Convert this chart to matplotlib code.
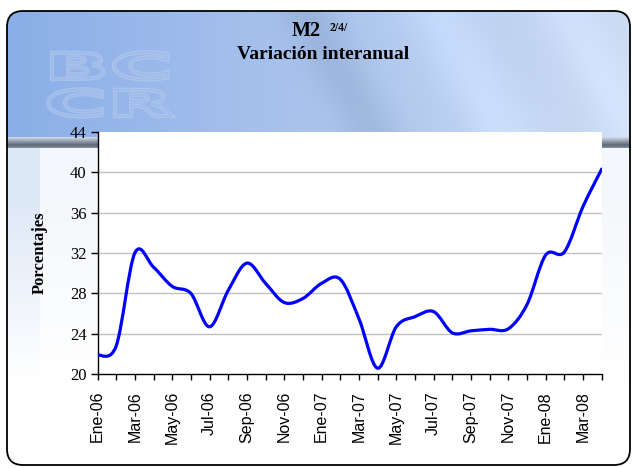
import numpy as np
import matplotlib
matplotlib.use("Agg")
import matplotlib.pyplot as plt
from matplotlib.path import Path
from matplotlib.patches import PathPatch, FancyBboxPatch
from matplotlib.textpath import TextPath
from matplotlib.font_manager import FontProperties
from matplotlib.transforms import Affine2D

# M2, variacion interanual (%), Ene-06 .. Abr-08
meses = ["Ene", "Feb", "Mar", "Abr", "May", "Jun",
         "Jul", "Ago", "Sep", "Oct", "Nov", "Dic"]
anios = ["06", "07", "08"]
etiquetas = [m + "-" + a for a in anios for m in meses][:28]
m2 = [21.9, 22.8, 32.0, 30.6, 28.7, 28.0, 24.7, 28.3, 31.0, 29.0, 27.1, 27.5,
      29.0, 29.4, 25.5, 20.6, 24.7, 25.7, 26.2, 24.1, 24.3, 24.45, 24.5, 26.9,
      31.8, 32.1, 36.6, 40.3]
yticks = [20, 24, 28, 32, 36, 40, 44]

W, H = 633, 468
fig = plt.figure(figsize=(W / 100, H / 100), dpi=100)
fig.patch.set_facecolor("white")

# ---- background (blue banner, grey bar, pale lower part) ----
yy, xx = np.mgrid[0:H, 0:W].astype(float)
t = (xx / W)[..., None]
izq = np.array([0.54, 0.68, 0.91])
der = np.array([0.80, 0.86, 0.95])
img = izq * (1 - t) + der * t
u = xx - 0.55 * yy
img += (-0.06 * np.exp(-((u - 300) / 30) ** 2))[..., None]
img += (0.05 * np.exp(-((u - 430) / 35) ** 2))[..., None]
img += (0.04 * np.exp(-((u - 560) / 30) ** 2))[..., None]
abajo = yy >= 148
f = np.clip((yy - 200) / 180, 0, 1)[..., None]
palido = np.array([0.96, 0.97, 0.985]) * (1 - f) + np.array([1.0, 1.0, 1.0]) * f
celeste = np.array([0.87, 0.91, 0.97]) * (1 - f) + np.array([1.0, 1.0, 1.0]) * f
low = np.where((xx < 40)[..., None], celeste, palido)
img[abajo] = low[abajo]
for y in range(137, 148):
    s = abs(y - 144.5) / 7.5
    img[y, :] = np.array([0.36, 0.40, 0.46]) * (1 - s) + np.array([0.80, 0.84, 0.90]) * s
img = np.clip(img, 0, 1)

bg = fig.add_axes([0, 0, 1, 1], zorder=-5)
bg.set_xlim(0, W)
bg.set_ylim(H, 0)
bg.axis("off")
im = bg.imshow(img, extent=(0, W, H, 0), aspect="auto", interpolation="bilinear")
caja = FancyBboxPatch((7, 11), 623, 454, boxstyle="round,pad=0,rounding_size=16",
                      transform=bg.transData, facecolor="none", edgecolor="black", lw=1.3)
bg.add_patch(caja)
im.set_clip_path(caja)

# BCCR watermark
fp = FontProperties(family="DejaVu Sans", weight="bold")
for txt, y0 in [("BC", 79), ("CR", 116)]:
    tp = TextPath((0, 0), txt, size=50, prop=fp)
    tr = Affine2D().scale(1.72, -0.72).translate(44, y0) + bg.transData
    bg.add_patch(PathPatch(tp, transform=tr, facecolor="none",
                           edgecolor="#bcd0f0", lw=3.0, alpha=0.55))
    bg.add_patch(PathPatch(tp, transform=tr, facecolor="none",
                           edgecolor="#9ab9e8", lw=1.0, alpha=0.8))

# ---- titles ----
fig.text(0.507, 0.9231, "M2", ha="right", va="baseline", family="Liberation Serif",
         weight="bold", fontsize=14.5)
fig.text(0.521, 0.9344, "2/4/", ha="left", va="baseline", family="Liberation Serif",
         weight="bold", fontsize=8.5)
fig.text(0.510, 0.8733, "Variación interanual", ha="center", va="baseline",
         family="Liberation Serif", weight="bold", fontsize=14)

# ---- chart ----
ax = fig.add_axes([97.5 / W, 1 - 374.3 / H, 504.2 / W, 242.6 / H])
ax.set_facecolor("white")
x = np.arange(len(m2))
y = np.array(m2)
ax.set_xlim(0, len(m2) - 1)
ax.set_ylim(20, 44)

# smoothed line (Bezier through the points, like Excel's smooth line)
p = np.column_stack([x, y])
pp = np.vstack([p[0], p, p[-1]])
verts = [tuple(p[0])]
codes = [Path.MOVETO]
for i in range(len(p) - 1):
    c1 = pp[i + 1] + (pp[i + 2] - pp[i]) / 6
    c2 = pp[i + 2] - (pp[i + 3] - pp[i + 1]) / 6
    verts += [tuple(c1), tuple(c2), tuple(p[i + 1])]
    codes += [Path.CURVE4] * 3
ax.add_patch(PathPatch(Path(verts, codes), facecolor="none", edgecolor="#0000ff",
                       lw=2.3, capstyle="round", joinstyle="round", zorder=3))

ax.set_yticks(yticks)
ax.set_yticklabels([str(v) for v in yticks], family="Liberation Serif", fontsize=12)
ax.set_xticks(x)
ax.set_xticklabels([e if i % 2 == 0 else "" for i, e in enumerate(etiquetas)],
                   rotation=90, family="Liberation Sans", fontsize=11.5)
for g in yticks[1:-1]:
    ax.axhline(g, color="#c0c0c0", lw=1.0, zorder=1)
ax.tick_params(axis="y", direction="out", length=5, width=1, pad=3)
ax.tick_params(axis="x", direction="out", length=4, width=1, pad=8)
for s in ["top", "right"]:
    ax.spines[s].set_visible(False)
for s in ["left", "bottom"]:
    ax.spines[s].set_linewidth(1.0)
    ax.spines[s].set_color("black")
ax.set_ylabel("Porcentajes", family="Liberation Serif", weight="bold",
              fontsize=12, labelpad=16)

fig.savefig("out.png", dpi=100)
